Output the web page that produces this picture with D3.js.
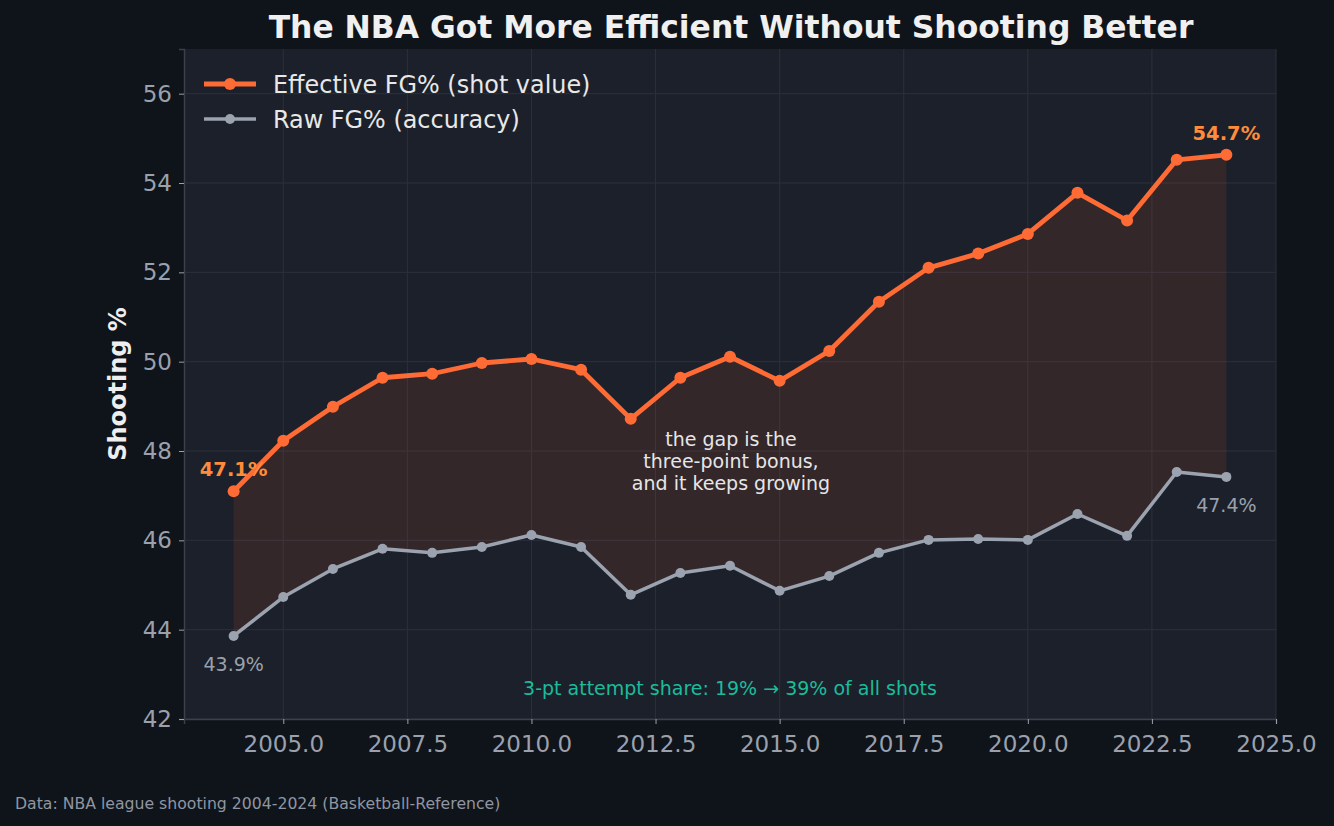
<!DOCTYPE html>
<html lang="en">
<head>
<meta charset="utf-8">
<title>The NBA Got More Efficient Without Shooting Better</title>
<script src="https://d3js.org/d3.v7.min.js"></script>
<style>
  html, body { margin: 0; padding: 0; background: #0f131a; }
  svg { display: block; }
  svg text { font-family: "DejaVu Sans", sans-serif; }
  .grid line { stroke: #2b303b; stroke-width: 1; }
  .axis text { fill: #9aa1ad; font-size: 23px; font-family: "DejaVu Sans", sans-serif; }
  .axis line { stroke: #9aa1ad; }
</style>
</head>
<body>
<div id="chart"></div>
<script>
// seasons and league shooting numbers
var years = [2004, 2005, 2006, 2007, 2008, 2009, 2010, 2011, 2012, 2013, 2014,
             2015, 2016, 2017, 2018, 2019, 2020, 2021, 2022, 2023, 2024];
var efgPct = [47.1, 48.23, 48.99, 49.64, 49.73, 49.97, 50.06, 49.82, 48.72, 49.64, 50.11,
              49.57, 50.24, 51.34, 52.10, 52.42, 52.86, 53.78, 53.16, 54.52, 54.63];
var fgPct = [43.86, 44.73, 45.36, 45.81, 45.72, 45.85, 46.12, 45.85, 44.78, 45.27, 45.43,
             44.87, 45.20, 45.72, 46.01, 46.03, 46.01, 46.59, 46.10, 47.53, 47.42];
var xTicks = [2005, 2007.5, 2010, 2012.5, 2015, 2017.5, 2020, 2022.5, 2025];
var yTicks = [42, 44, 46, 48, 50, 52, 54, 56];

var W = 1334, H = 826;
var margin = {top: 49, right: 58, bottom: 107, left: 184};
var width = W - margin.left - margin.right,
    height = H - margin.top - margin.bottom;

var data = years.map(function(y, i) { return {year: y, efg: efgPct[i], fg: fgPct[i]}; });

var x = d3.scaleLinear().domain([2003, 2025]).range([0, width]);
var y = d3.scaleLinear().domain([42, 57]).range([height, 0]);

var svg = d3.select("#chart").append("svg")
    .attr("width", W)
    .attr("height", H);

svg.append("rect").attr("width", W).attr("height", H).attr("fill", "#0f131a");

var g = svg.append("g")
    .attr("transform", "translate(" + margin.left + "," + margin.top + ")");

g.append("rect").attr("width", width).attr("height", height).attr("fill", "#1c202a");

// grid
g.append("g").attr("class", "grid")
    .selectAll("line").data(xTicks).enter().append("line")
    .attr("x1", function(d) { return x(d); }).attr("x2", function(d) { return x(d); })
    .attr("y1", 0).attr("y2", height);
g.append("g").attr("class", "grid")
    .selectAll("line").data(yTicks).enter().append("line")
    .attr("y1", function(d) { return y(d); }).attr("y2", function(d) { return y(d); })
    .attr("x1", 0).attr("x2", width);

// gap between the two lines
var area = d3.area()
    .x(function(d) { return x(d.year); })
    .y0(function(d) { return y(d.fg); })
    .y1(function(d) { return y(d.efg); });
g.append("path").datum(data)
    .attr("d", area)
    .attr("fill", "#ff6b35")
    .attr("fill-opacity", 0.1);

var lineFg = d3.line().x(function(d) { return x(d.year); }).y(function(d) { return y(d.fg); });
var lineEfg = d3.line().x(function(d) { return x(d.year); }).y(function(d) { return y(d.efg); });

g.append("path").datum(data)
    .attr("d", lineFg)
    .attr("fill", "none").attr("stroke", "#9aa3af").attr("stroke-width", 3.5)
    .attr("stroke-linejoin", "round");
g.selectAll(".fgdot").data(data).enter().append("circle")
    .attr("cx", function(d) { return x(d.year); })
    .attr("cy", function(d) { return y(d.fg); })
    .attr("r", 5).attr("fill", "#9aa3af");

g.append("path").datum(data)
    .attr("d", lineEfg)
    .attr("fill", "none").attr("stroke", "#ff6b35").attr("stroke-width", 4.8)
    .attr("stroke-linejoin", "round");
g.selectAll(".efgdot").data(data).enter().append("circle")
    .attr("cx", function(d) { return x(d.year); })
    .attr("cy", function(d) { return y(d.efg); })
    .attr("r", 6).attr("fill", "#ff6b35");

// axes
var xAxis = g.append("g").attr("class", "axis")
    .attr("transform", "translate(0," + height + ")")
    .call(d3.axisBottom(x).tickValues(xTicks).tickFormat(d3.format(".1f")).tickSize(5).tickPadding(7));
var yAxis = g.append("g").attr("class", "axis")
    .call(d3.axisLeft(y).tickValues(yTicks).tickFormat(d3.format("d")).tickSize(5).tickPadding(7));
xAxis.attr("font-family", null);
yAxis.attr("font-family", null);
xAxis.select(".domain").attr("stroke", "#3a404c").attr("stroke-width", 1.5);
yAxis.select(".domain").attr("stroke", "#3a404c").attr("stroke-width", 1.5);
xAxis.selectAll("text").attr("dy", "0.92em");

// endpoint labels
var first = data[0], last = data[data.length - 1];
g.append("text").attr("x", x(first.year)).attr("y", y(first.efg) - 15)
    .attr("text-anchor", "middle").attr("fill", "#ff8c3a")
    .attr("font-size", 19.5).attr("font-weight", "bold")
    .text(d3.format(".1f")(first.efg) + "%");
g.append("text").attr("x", x(last.year)).attr("y", y(last.efg) - 15)
    .attr("text-anchor", "middle").attr("fill", "#ff8c3a")
    .attr("font-size", 19.5).attr("font-weight", "bold")
    .text("54.7%");
g.append("text").attr("x", x(first.year)).attr("y", y(first.fg) + 35)
    .attr("text-anchor", "middle").attr("fill", "#9aa1ad")
    .attr("font-size", 19)
    .text("43.9%");
g.append("text").attr("x", x(last.year)).attr("y", y(last.fg) + 35)
    .attr("text-anchor", "middle").attr("fill", "#9aa1ad")
    .attr("font-size", 19)
    .text(d3.format(".1f")(last.fg) + "%");

// middle note
var note = ["the gap is the", "three-point bonus,", "and it keeps growing"];
g.append("text").attr("x", width / 2 + 1).attr("y", 446 - margin.top)
    .attr("text-anchor", "middle").attr("fill", "#e6e6e6").attr("font-size", 19)
    .selectAll("tspan").data(note).enter().append("tspan")
    .attr("x", width / 2 + 1).attr("dy", function(d, i) { return i ? 22 : 0; })
    .text(function(d) { return d; });

g.append("text").attr("x", width / 2).attr("y", y(42.6) + 3)
    .attr("text-anchor", "middle").attr("fill", "#1abc9c").attr("font-size", 19)
    .text("3-pt attempt share: 19% \u2192 39% of all shots");

// legend
var legend = [{label: "Effective FG% (shot value)", color: "#ff6b35", w: 4.8, r: 6},
              {label: "Raw FG% (accuracy)", color: "#9aa3af", w: 3.5, r: 5}];
var lg = g.selectAll(".legend").data(legend).enter().append("g")
    .attr("transform", function(d, i) { return "translate(20," + (35 + i * 35) + ")"; });
lg.append("line").attr("x1", 0).attr("x2", 52)
    .attr("stroke", function(d) { return d.color; })
    .attr("stroke-width", function(d) { return d.w; });
lg.append("circle").attr("cx", 26).attr("r", function(d) { return d.r; })
    .attr("fill", function(d) { return d.color; });
lg.append("text").attr("x", 69).attr("dy", "0.36em")
    .attr("fill", "#e8e8e8").attr("font-size", 23.9)
    .text(function(d) { return d.label; });

// y label
svg.append("text")
    .attr("transform", "translate(126," + (margin.top + height / 2) + ") rotate(-90)")
    .attr("text-anchor", "middle").attr("fill", "#eeeeee")
    .attr("font-size", 24).attr("font-weight", "bold")
    .text("Shooting %");

// title
svg.append("text").attr("x", margin.left + width / 2 + 1).attr("y", 38)
    .attr("text-anchor", "middle").attr("fill", "#f0f0f0")
    .attr("font-size", 31.4).attr("font-weight", "bold")
    .text("The NBA Got More Efficient Without Shooting Better");

svg.append("text").attr("x", 15).attr("y", 809)
    .attr("fill", "#8f96a2").attr("font-size", 15.7)
    .text("Data: NBA league shooting 2004-2024 (Basketball-Reference)");
</script>
</body>
</html>
